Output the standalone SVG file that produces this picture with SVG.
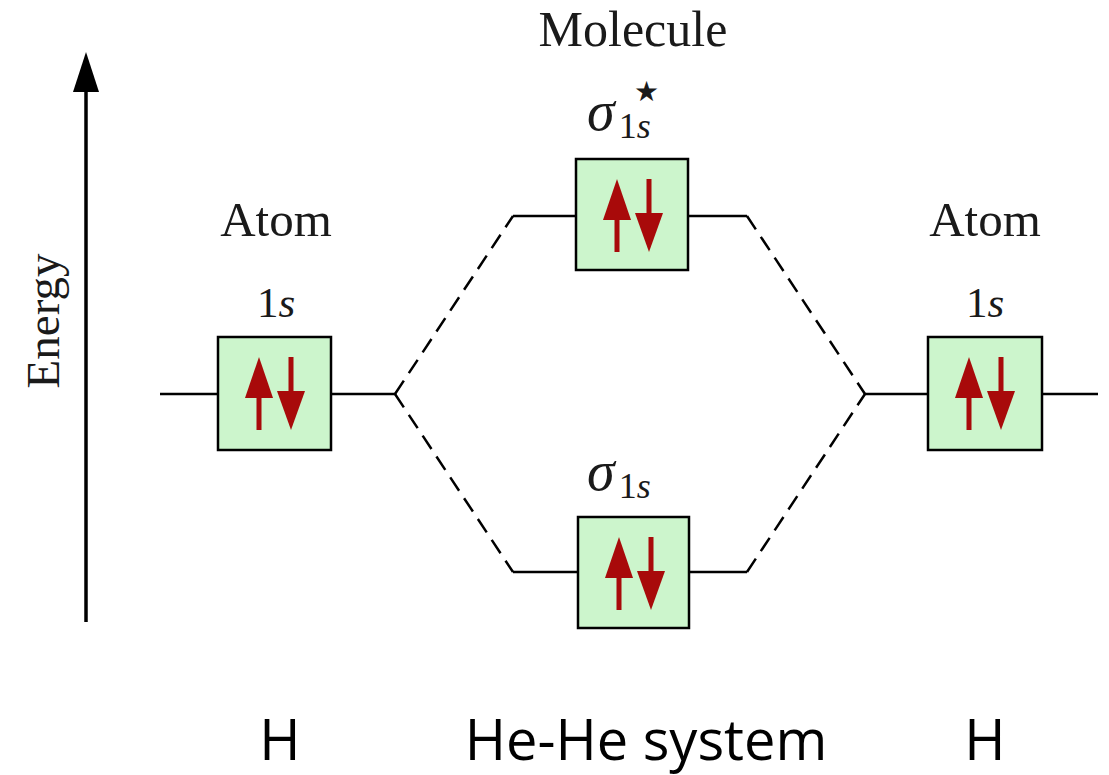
<svg xmlns="http://www.w3.org/2000/svg" width="1109" height="775" viewBox="0 0 1109 775">
<style>
.serif{font-family:"Liberation Serif","Times New Roman",serif;fill:#1a1a1a}
.lbl{font-size:49px}
.orb{font-size:43px}
.sans{font-family:"Open Sans","Liberation Sans",sans-serif;font-size:56px;fill:#000}
.lvl{stroke:#000;stroke-width:2.5;fill:none}
.dash{stroke:#000;stroke-width:2.5;fill:none;stroke-dasharray:16 9}
.box{fill:#ccf5cc;stroke:#000;stroke-width:2.5}
.spin{fill:#a80a0a;stroke:none}
.sig{font-size:56px;font-style:italic}
.sub{font-size:36px}
</style>
<defs>
<g id="spins">
<rect x="38.5" y="56" width="5" height="37" class="spin"/>
<path d="M41,20 L55,61 L27,61 Z" class="spin"/>
<rect x="70.5" y="20" width="5" height="36" class="spin"/>
<path d="M73,93 L87,54 L59,54 Z" class="spin"/>
</g>
</defs>
<rect width="1109" height="775" fill="#fff"/>

<g id="energy-axis">
<line x1="86" y1="622" x2="86" y2="60" stroke="#000" stroke-width="3.5"/>
<path d="M86,52 L99,92 L73,92 Z" fill="#000"/>
<text class="serif" font-size="47" transform="translate(59,321) rotate(-90)" text-anchor="middle">Energy</text>
</g>

<g id="connectors">
<path class="lvl" d="M160,394 H218 M331,394 H395"/>
<path class="lvl" d="M513,216 H576 M688,216 H747"/>
<path class="lvl" d="M513,572 H578 M689,572 H747"/>
<path class="lvl" d="M865,394 H928 M1042,394 H1098"/>
<path class="dash" d="M395,394 L513,216"/>
<path class="dash" d="M395,394 L513,572"/>
<path class="dash" d="M747,216 L865,394"/>
<path class="dash" d="M747,572 L865,394"/>
</g>

<g id="atom-left">
<text class="serif lbl" x="276" y="236" text-anchor="middle">Atom</text>
<text class="serif orb" x="276" y="317" text-anchor="middle">1<tspan font-style="italic">s</tspan></text>
<rect class="box" x="218" y="337" width="113" height="113"/>
<use href="#spins" x="218" y="337"/>
</g>

<g id="molecule-label">
<text class="serif" font-size="50" x="633" y="46" text-anchor="middle">Molecule</text>
</g>

<g id="sigma-star">
<text class="serif sig" x="587" y="130">σ<tspan class="sub" font-style="normal" dx="4" dy="8">1</tspan><tspan class="sub">s</tspan></text>
<text class="serif" x="634" y="101" font-size="28">★</text>
<rect class="box" x="576" y="159" width="112" height="111"/>
<use href="#spins" x="576" y="159"/>
</g>

<g id="sigma">
<text class="serif sig" x="587" y="490">σ<tspan class="sub" font-style="normal" dx="4" dy="8">1</tspan><tspan class="sub">s</tspan></text>
<rect class="box" x="578" y="517" width="111" height="111"/>
<use href="#spins" x="578" y="517"/>
</g>

<g id="atom-right">
<text class="serif lbl" x="985" y="236" text-anchor="middle">Atom</text>
<text class="serif orb" x="985" y="317" text-anchor="middle">1<tspan font-style="italic">s</tspan></text>
<rect class="box" x="928" y="337" width="114" height="113"/>
<use href="#spins" x="928" y="337"/>
</g>

<g id="bottom-labels">
<text class="sans" x="280" y="760" text-anchor="middle">H</text>
<text class="sans" x="646" y="760" text-anchor="middle">He-He system</text>
<text class="sans" x="985" y="760" text-anchor="middle">H</text>
</g>
</svg>
